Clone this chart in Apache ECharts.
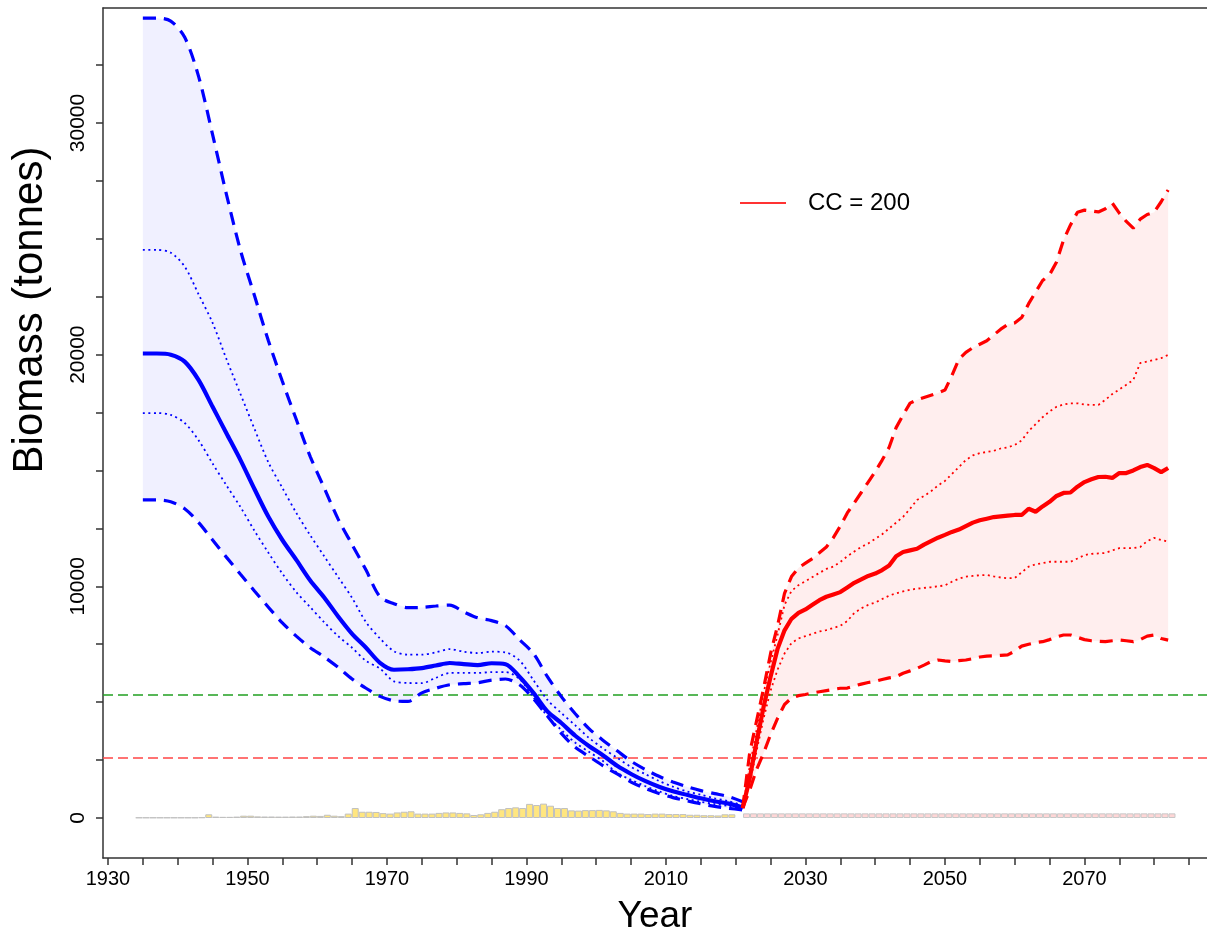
<!DOCTYPE html>
<html>
<head>
<meta charset="utf-8">
<script src="https://cdn.jsdelivr.net/npm/echarts@6/dist/echarts.min.js"></script>
<style>
html,body{margin:0;padding:0;background:#fff;}
#chart{width:1207px;height:941px;}
</style>
</head>
<body>
<div id="chart"></div>
<script>
// ---------- DATA ----------
const xTickValues = [1930,1935,1940,1945,1950,1955,1960,1965,1970,1975,1980,1985,1990,1995,2000,2005,2010,2015,2020,2025,2030,2035,2040,2045,2050,2055,2060,2065,2070,2075,2080,2085];
const xLabelValues = [1930,1950,1970,1990,2010,2030,2050,2070];
const yTickValues = [0,2500,5000,7500,10000,12500,15000,17500,20000,22500,25000,27500,30000,32500];
const yLabelValues = [0,10000,20000,30000];

// historical estimates (blue)
const histYears = [1935,1937,1939,1941,1943,1945,1947,1949,1951,1953,1955,1957,1959,1961,1963,1965,1967,1969,1971,1973,1975,1977,1979,1981,1983,1985,1987,1989,1991,1993,1995,1997,1999,2001,2003,2005,2007,2009,2011,2013,2015,2017,2019,2021];
const histMedian = [20050,20050,20000,19700,18900,17750,16600,15450,14200,13000,12000,11140,10250,9520,8700,7950,7350,6700,6400,6420,6470,6580,6690,6640,6600,6680,6640,6100,5400,4600,4100,3550,3100,2700,2250,1900,1600,1350,1150,1000,850,720,620,450];
const histUpper80 = [24520,24520,24400,23800,22600,21370,19800,18300,16800,15350,14250,13170,12200,11300,10400,9500,8450,7750,7200,7050,7050,7150,7290,7180,7120,7180,7150,6800,5950,5100,4530,4000,3450,3000,2600,2200,1900,1600,1350,1150,1000,850,720,550];
const histLower80 = [17480,17480,17400,17050,16300,15300,14350,13420,12400,11450,10550,9750,9100,8450,7850,7350,6780,6450,5900,5830,5820,6050,6260,6260,6260,6300,6300,6000,5200,4400,3800,3250,2850,2450,1950,1650,1380,1150,950,820,700,600,520,400];
const histUpper95 = [34530,34530,34400,33700,32000,29500,26900,24500,22550,20600,18850,17200,15600,14250,12900,11800,10700,9550,9250,9080,9090,9150,9190,8900,8640,8520,8300,7700,7100,6100,5240,4500,3850,3350,2900,2450,2100,1800,1550,1350,1180,1050,920,700];
const histLower95 = [13730,13730,13650,13350,12750,12000,11250,10520,9800,9100,8420,7850,7350,6950,6500,6000,5600,5250,5060,5030,5400,5600,5750,5800,5840,5950,6000,5750,5150,4400,3650,3050,2650,2250,1900,1550,1280,1060,880,740,610,500,420,350];

// projections (red), CC = 200
const projYears = [2021,2022,2023,2024,2025,2026,2027,2028,2029,2030,2031,2032,2033,2034,2035,2036,2037,2038,2039,2040,2041,2042,2043,2044,2045,2046,2047,2048,2049,2050,2051,2052,2053,2054,2055,2056,2057,2058,2059,2060,2061,2062,2063,2064,2065,2066,2067,2068,2069,2070,2071,2072,2073,2074,2075,2076,2077,2078,2079,2080,2081,2082];
const projMedian = [430,1700,3300,4800,6100,7300,8100,8600,8850,9000,9200,9400,9550,9650,9750,9950,10150,10300,10450,10550,10700,10900,11300,11480,11550,11620,11800,11950,12100,12220,12350,12450,12600,12750,12850,12920,12990,13020,13050,13080,13080,13350,13220,13450,13650,13900,14030,14050,14300,14500,14620,14720,14730,14680,14890,14890,15000,15150,15240,15100,14930,15110];
const projUpper95 = [430,2800,4200,5600,7100,8300,9700,10420,10800,11000,11200,11450,11700,12100,12600,13170,13600,14050,14500,14950,15450,16000,16850,17400,17910,18050,18150,18250,18350,18470,19100,19800,20100,20300,20450,20600,20850,21100,21300,21370,21600,22200,22700,23200,23450,24000,24950,25600,26150,26240,26200,26160,26300,26540,26110,25750,25460,25850,26050,26150,26600,27110];
const projUpper80 = [430,2200,3800,5400,6700,7900,9200,9800,10050,10220,10400,10580,10750,10850,11050,11300,11500,11700,11850,12050,12250,12500,12750,13000,13350,13730,13900,14100,14350,14550,14850,15150,15450,15650,15750,15800,15850,15950,16000,16100,16300,16700,17000,17300,17550,17750,17850,17900,17900,17850,17830,17830,18050,18300,18500,18700,18910,19640,19700,19770,19850,19990];
const projLower80 = [430,1500,2900,4300,5500,6400,7100,7550,7750,7850,7950,8050,8110,8200,8300,8500,8850,9050,9200,9300,9450,9600,9700,9780,9850,9900,9930,9960,10000,10040,10200,10330,10420,10450,10480,10490,10430,10380,10350,10360,10600,10850,10950,11000,11060,11060,11060,11060,11200,11350,11400,11420,11440,11550,11650,11650,11650,11700,11950,12090,12000,11930];
const projLower95 = [430,1200,2100,2800,3600,4300,4900,5180,5280,5330,5400,5450,5500,5550,5600,5610,5700,5780,5850,5900,5980,6050,6100,6250,6350,6460,6600,6750,6820,6780,6750,6790,6820,6880,6950,6990,7000,7020,7040,7200,7420,7500,7570,7610,7700,7820,7900,7900,7800,7700,7650,7630,7610,7650,7680,7650,7610,7700,7850,7900,7750,7680];

// catches (historical, yellow) and projected constant catch (pink)
const catchYears = [1935,1936,1937,1938,1939,1940,1941,1942,1943,1944,1945,1946,1947,1948,1949,1950,1951,1952,1953,1954,1955,1956,1957,1958,1959,1960,1961,1962,1963,1964,1965,1966,1967,1968,1969,1970,1971,1972,1973,1974,1975,1976,1977,1978,1979,1980,1981,1982,1983,1984,1985,1986,1987,1988,1989,1990,1991,1992,1993,1994,1995,1996,1997,1998,1999,2000,2001,2002,2003,2004,2005,2006,2007,2008,2009,2010,2011,2012,2013,2014,2015,2016,2017,2018,2019,2020];
const catchValues = [20,20,20,20,20,20,20,20,20,30,160,60,50,50,60,100,100,70,65,65,60,60,65,65,80,100,90,140,100,80,190,430,270,270,260,210,190,240,270,290,190,190,190,220,240,240,220,200,130,160,220,270,380,430,460,430,610,560,620,530,430,430,330,320,340,340,350,330,290,220,190,190,190,170,190,190,170,170,170,140,140,120,120,110,160,160];
const projCatchYears = [2021,2022,2023,2024,2025,2026,2027,2028,2029,2030,2031,2032,2033,2034,2035,2036,2037,2038,2039,2040,2041,2042,2043,2044,2045,2046,2047,2048,2049,2050,2051,2052,2053,2054,2055,2056,2057,2058,2059,2060,2061,2062,2063,2064,2065,2066,2067,2068,2069,2070,2071,2072,2073,2074,2075,2076,2077,2078,2079,2080,2081,2082];
const projCatchValues = [200,200,200,200,200,200,200,200,200,200,200,200,200,200,200,200,200,200,200,200,200,200,200,200,200,200,200,200,200,200,200,200,200,200,200,200,200,200,200,200,200,200,200,200,200,200,200,200,200,200,200,200,200,200,200,200,200,200,200,200,200,200];

// reference levels
const targetRef = 5300;
const limitRef = 2600;
const legendLabel = 'CC = 200';

// ---------- CHART ----------
const pair = (xs, ys) => xs.map((x, i) => [x, ys[i]]);

function band(xs, up, lo, fill) {
  return {
    type: 'custom', silent: true, z: 1,
    data: xs.map((x, i) => [x, up[i], lo[i]]),
    encode: { x: 0, y: [1, 2] },
    renderItem: function (params, api) {
      if (params.dataIndex !== 0) return null;
      const pts = [];
      for (let i = 0; i < xs.length; i++) pts.push(api.coord([xs[i], up[i]]));
      for (let i = xs.length - 1; i >= 0; i--) pts.push(api.coord([xs[i], lo[i]]));
      return { type: 'polygon', shape: { points: pts }, style: { fill: fill } };
    }
  };
}

function line(name, xs, ys, color, kind, smooth) {
  let ls;
  if (kind === 'solid') ls = { color: color, width: 4.2, type: 'solid' };
  else if (kind === 'dashed') ls = { color: color, width: 3.2, type: [13, 8] };
  else ls = { color: color, width: 1.8, type: [2, 3.5] };
  return {
    name: name, type: 'line', data: pair(xs, ys), showSymbol: false, symbol: 'none',
    smooth: smooth ? 0.3 : false, lineStyle: ls, z: 5, silent: true,
    itemStyle: { color: color }
  };
}

const BLUE = '#0000FF', RED = '#FF0000';
const axisCol = '#333333';
const font = '"Liberation Sans", Arial, sans-serif';
const frame = { show: true, onZero: false, lineStyle: { color: axisCol, width: 1.5 } };

const chart = echarts.init(document.getElementById('chart'), null, { renderer: 'canvas' });
chart.setOption({
  animation: false,
  backgroundColor: '#ffffff',
  grid: { left: 103, width: 1108, top: 8, height: 850, show: false },
  legend: {
    left: 735, top: 186, itemWidth: 46, itemHeight: 2, selectedMode: false,
    data: [{ name: legendLabel, icon: 'rect', itemStyle: { color: '#FF3333' } }],
    textStyle: { fontSize: 24, color: '#000', fontFamily: font, padding: [0, 0, 0, 17] }
  },
  xAxis: [{
    type: 'value', min: 1929.286, max: 2087.572, position: 'bottom',
    name: 'Year', nameLocation: 'middle', nameGap: 40,
    nameTextStyle: { fontSize: 37, color: '#000', fontFamily: font },
    axisLine: frame,
    axisTick: { show: true, length: 7, inside: false, customValues: xTickValues, lineStyle: { color: axisCol, width: 1.5 } },
    axisLabel: { customValues: xLabelValues, fontSize: 20, color: '#000', fontFamily: font, margin: 11, formatter: v => String(v) },
    splitLine: { show: false }
  }, {
    type: 'value', min: 1929.286, max: 2087.572, position: 'top',
    axisLine: frame, axisTick: { show: false }, axisLabel: { show: false }, splitLine: { show: false }
  }],
  yAxis: {
    type: 'value', min: -1727, max: 34964, position: 'left',
    name: 'Biomass (tonnes)', nameLocation: 'middle', nameGap: 52,
    nameTextStyle: { fontSize: 42, color: '#000', fontFamily: font, padding: [0, 0, 0, 246] },
    axisLine: frame,
    axisTick: { show: true, length: 7, inside: false, customValues: yTickValues, lineStyle: { color: axisCol, width: 1.5 } },
    axisLabel: { customValues: yLabelValues, rotate: 90, fontSize: 21, color: '#000', fontFamily: font, margin: 14, formatter: v => String(v) },
    splitLine: { show: false }
  },
  series: [
    band(histYears, histUpper95, histLower95, 'rgba(0,0,255,0.06)'),
    band(projYears, projUpper95, projLower95, 'rgba(255,0,0,0.065)'),
    {
      name: 'catch', type: 'bar', data: pair(catchYears, catchValues), barWidth: 7, z: 2, silent: true,
      itemStyle: { color: '#FFE680', borderColor: '#C0C0C0', borderWidth: 1 },
      markLine: {
        silent: true, symbol: 'none', label: { show: false },
        data: [
          { yAxis: targetRef, lineStyle: { color: '#22A022', width: 1.5, type: [10, 5] } },
          { yAxis: limitRef, lineStyle: { color: '#FF4545', width: 1.5, type: [10, 5] } }
        ]
      }
    },
    {
      name: 'projCatch', type: 'bar', data: pair(projCatchYears, projCatchValues), barWidth: 7, z: 2, silent: true,
      itemStyle: { color: '#FFD6D6', borderColor: '#C8C8C8', borderWidth: 1 }
    },
    line('histUpper95', histYears, histUpper95, BLUE, 'dashed', true),
    line('histLower95', histYears, histLower95, BLUE, 'dashed', true),
    line('histUpper80', histYears, histUpper80, BLUE, 'dotted', true),
    line('histLower80', histYears, histLower80, BLUE, 'dotted', true),
    line('histMedian', histYears, histMedian, BLUE, 'solid', true),
    line('projUpper95', projYears, projUpper95, RED, 'dashed', false),
    line('projLower95', projYears, projLower95, RED, 'dashed', false),
    line('projUpper80', projYears, projUpper80, RED, 'dotted', false),
    line('projLower80', projYears, projLower80, RED, 'dotted', false),
    line(legendLabel, projYears, projMedian, RED, 'solid', false)
  ]
});
</script>
</body>
</html>
